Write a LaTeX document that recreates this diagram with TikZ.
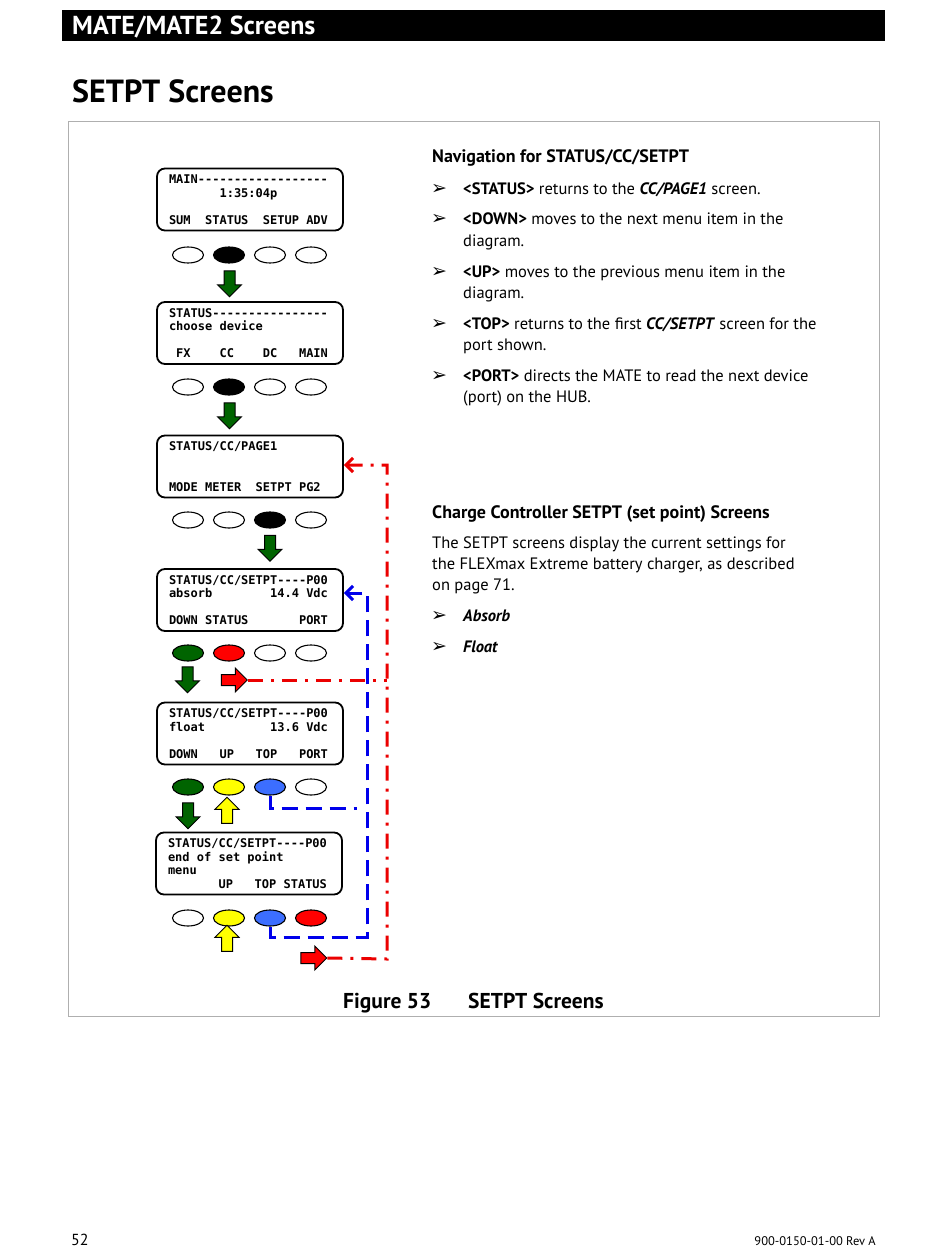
\documentclass[tikz,border=0pt]{standalone}
\usepackage{fontspec}
\setmainfont{PT Sans}
\newfontfamily\lcdfont{DejaVu Sans Mono}
\newfontfamily\symfont{DejaVu Sans}
\usepackage{xcolor}
\usetikzlibrary{shapes.geometric,shapes.arrows,arrows.meta}
\definecolor{btngreen}{RGB}{0,100,0}
\definecolor{btnblue}{RGB}{60,110,255}
\definecolor{btnyellow}{RGB}{255,255,0}
\definecolor{btnred}{RGB}{255,0,0}
\definecolor{linered}{RGB}{235,0,0}
\definecolor{lineblue}{RGB}{0,0,235}
\definecolor{framegray}{RGB}{175,175,175}
\newdimen\cw \cw=7.224pt
\newcommand\sk[1]{\hspace*{#1\cw}}
\tikzset{
  screen/.style={draw, line width=1.8pt, rounded corners=8pt, minimum width=186pt,
    minimum height=62pt, text width=162pt, inner xsep=12pt, inner ysep=3pt, align=left,
    font=\lcdfont\bfseries\fontsize{12}{13.5}\selectfont},
  btn/.style={ellipse, draw, line width=1.1pt, minimum width=31pt, minimum height=16pt, inner sep=0pt},
  blockarrow/.style={single arrow, draw, line width=1pt, inner sep=5pt, minimum height=26pt,
    single arrow head extend=6.5pt, single arrow tip angle=90},
  godown/.style={blockarrow, fill=btngreen, shape border rotate=270},
  goup/.style={blockarrow, fill=btnyellow, shape border rotate=90},
  goright/.style={blockarrow, fill=btnred, shape border rotate=0},
  redlink/.style={linered, line width=3pt, dash pattern=on 15pt off 8pt on 3pt off 8pt},
  bluelink/.style={lineblue, line width=3pt, dash pattern=on 16pt off 8pt},
  body/.style={anchor=base west, inner sep=0pt, font=\fontsize{16.5}{20}\selectfont},
  headline/.style={anchor=base west, inner sep=0pt, font=\bfseries\fontsize{18}{21}\selectfont},
  bullet/.style={anchor=base west, inner sep=0pt, font=\symfont\bfseries\fontsize{19}{21}\selectfont}
}
\begin{document}
\begin{tikzpicture}[x=1pt,y=-1pt]
\useasboundingbox (0,0) rectangle (950,1260);
\fill[black] (62,10) rectangle (885,41);
\node[anchor=base west, inner sep=0pt, white, font=\bfseries\fontsize{26}{28}\selectfont] (chapter) at (72,35) {MATE/MATE2 Screens};
\node[anchor=base west, inner sep=0pt, font=\bfseries\fontsize{32}{36}\selectfont] (title) at (72,103) {SETPT Screens};
\draw[framegray, line width=1pt] (68,122) rectangle (879,1016);

% screens
\node[screen] (s1) at (250,199.5) {MAIN------------------\\ \sk{7}1:35:04p\\ \mbox{}\\ SUM\sk{2}STATUS\sk{2}SETUP\sk{1}ADV};
\node[screen] (s2) at (250,333) {STATUS----------------\\ choose\sk{1}device\\ \mbox{}\\ \sk{1}FX\sk{4}CC\sk{4}DC\sk{3}MAIN};
\node[screen] (s3) at (250,466.5) {STATUS/CC/PAGE1\\ \mbox{}\\ \mbox{}\\ MODE\sk{1}METER\sk{2}SETPT\sk{1}PG2};
\node[screen] (s4) at (250,600) {STATUS/CC/SETPT----P00\\ absorb\sk{8}14.4\sk{1}Vdc\\ \mbox{}\\ DOWN\sk{1}STATUS\sk{7}PORT};
\node[screen] (s5) at (250,733.5) {STATUS/CC/SETPT----P00\\ float\sk{9}13.6\sk{1}Vdc\\ \mbox{}\\ DOWN\sk{3}UP\sk{3}TOP\sk{3}PORT};
\node[screen] (s6) at (249,863.5) {STATUS/CC/SETPT----P00\\ end\sk{1}of\sk{1}set\sk{1}point\\ menu\\ \sk{7}UP\sk{3}TOP\sk{1}STATUS};

% buttons
\foreach \rw/\yy/\ca/\cb/\cc/\cd in {1/255/white/black/white/white, 2/387/white/black/white/white,
  3/520/white/white/black/white, 4/653/btngreen/btnred/white/white,
  5/787/btngreen/btnyellow/btnblue/white, 6/918/white/btnyellow/btnblue/btnred}{
  \node[btn, fill=\ca] (b\rw1) at (188,\yy) {};
  \node[btn, fill=\cb] (b\rw2) at (229,\yy) {};
  \node[btn, fill=\cc] (b\rw3) at (270,\yy) {};
  \node[btn, fill=\cd] (b\rw4) at (311,\yy) {};
}

\node[godown] (g1) at (229.5,281) {};
\node[godown] (g2) at (229.5,413) {};
\node[godown] (g3) at (270,545.5) {};
\node[godown] (g4) at (187.5,677) {};
\node[godown] (g5) at (188,813) {};
\node[goup] (u1) at (227,813) {};
\node[goup] (u2) at (227,941) {};
\node[goright] (r1) at (231.5,680) {};
\node[goright] (r2) at (311,958) {};

% return links
\coordinate (bluetop) at (367,593);
\coordinate (bluemid) at (357,808);
\coordinate (bluebot) at (367,937);
\coordinate (redtop) at (387,465);
\coordinate (redbot) at (387,959);
\draw[bluelink] (b53.south) |- (bluemid);
\draw[bluelink, -{Straight Barb[length=7pt,width=14pt]}] (b63.south) |- (bluebot) -- (bluetop) -- (s4.east |- bluetop);
\draw[redlink] (r1.east) -- (r1.east -| redtop);
\draw[redlink, -{Straight Barb[length=7pt,width=14pt]}] (r2.east) -- (redbot) -- (redtop) -- (s3.east |- redtop);

% text column
\node[headline] (navhead) at (432,163) {Navigation for STATUS/CC/SETPT};
\foreach \yy in {194,224,277,329,381,621,652}
  \node[bullet] (bl\yy) at (431,\yy) {➢};
\node[body] (nav1) at (463,194) {\textbf{<STATUS>} returns to the \textbf{\textit{CC/PAGE1}} screen.};
\node[body] (nav2) at (463,224) {\textbf{<DOWN>} moves to the next menu item in the};
\node[body] (nav2b) at (463,246) {diagram.};
\node[body] (nav3) at (463,277) {\textbf{<UP>} moves to the previous menu item in the};
\node[body] (nav3b) at (463,298) {diagram.};
\node[body] (nav4) at (463,329) {\textbf{<TOP>} returns to the first \textbf{\textit{CC/SETPT}} screen for the};
\node[body] (nav4b) at (463,350) {port shown.};
\node[body] (nav5) at (463,381) {\textbf{<PORT>} directs the MATE to read the next device};
\node[body] (nav5b) at (463,402) {(port) on the HUB.};

\node[headline] (cchead) at (432,518) {Charge Controller SETPT (set point) Screens};
\node[body] (cc1) at (432,548) {The SETPT screens display the current settings for};
\node[body] (cc2) at (432,569) {the FLEXmax Extreme battery charger, as described};
\node[body] (cc3) at (432,590) {on page 71.};
\node[body] (absorb) at (463,621) {\textbf{\textit{Absorb}}};
\node[body] (float) at (463,652) {\textbf{\textit{Float}}};

\node[anchor=base west, inner sep=0pt, font=\bfseries\fontsize{21.5}{24}\selectfont] (fignum) at (343,1008) {Figure 53};
\node[anchor=base west, inner sep=0pt, font=\bfseries\fontsize{21.5}{24}\selectfont] (figname) at (468,1008) {SETPT Screens};
\node[anchor=base west, inner sep=0pt, font=\fontsize{16}{18}\selectfont] (pagenum) at (71,1245) {52};
\node[anchor=base east, inner sep=0pt, font=\fontsize{12.5}{14}\selectfont] (docnum) at (876,1245) {900-0150-01-00 Rev A};
\end{tikzpicture}
\end{document}
